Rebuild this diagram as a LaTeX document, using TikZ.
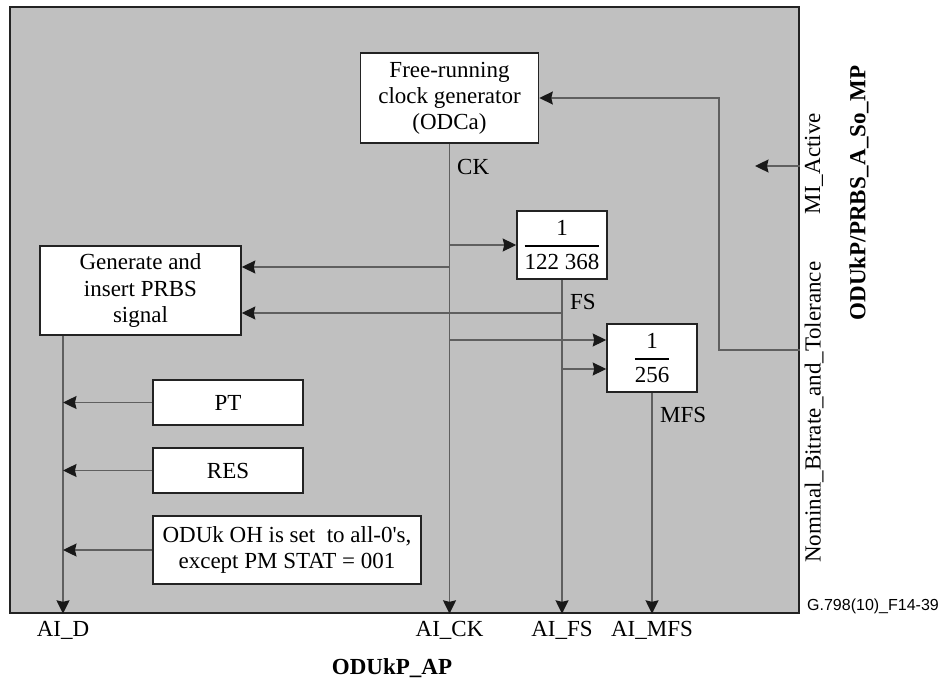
\documentclass[tikz,border=0pt]{standalone}
\usepackage{fontspec}
\usepackage{amsmath}
\setmainfont{Liberation Serif}
\newfontfamily\figsans{Liberation Sans}
\usetikzlibrary{arrows.meta,calc}
\definecolor{bgfill}{RGB}{192,192,192}
\definecolor{linec}{RGB}{95,95,95}
\definecolor{borderc}{RGB}{35,35,35}
\definecolor{tipc}{RGB}{25,25,25}
\newcommand{\divfrac}[2]{$\genfrac{}{}{1.4pt}{0}{\mbox{#1}}{\mbox{#2}}$}
\begin{document}
\begin{tikzpicture}[x=1pt,y=-1pt,
  every node/.style={font=\fontsize{23}{26}\selectfont},
  blk/.style={draw=borderc, line width=1.6pt, fill=white, align=center, inner sep=0pt},
  conn/.style={draw=linec, line width=1.3pt},
  arr/.style={conn, -{Stealth[length=13.5pt,width=13pt,inset=1.5pt,color=tipc]}},
  lbl/.style={inner sep=0pt}]
\useasboundingbox (0,0) rectangle (941,682);
% functional block
\node[draw=borderc, line width=1.6pt, fill=bgfill, minimum width=789pt, minimum height=606pt, inner sep=0pt] (fb) at (404.5,310) {};
% boxes
\node[blk, minimum width=178pt, minimum height=90pt] (clk) at (449.5,98) {Free-running\\clock generator\\(ODCa)};
\node[blk, minimum width=90pt, minimum height=68pt] (div1) at (562,245) {\divfrac{1}{122 368}};
\node[blk, minimum width=90pt, minimum height=68pt] (div2) at (652,358) {\divfrac{1}{256}};
\node[blk, minimum width=201pt, minimum height=89pt] (gen) at (140.5,290.5) {Generate and\\insert PRBS\\signal};
\node[blk, minimum width=150pt, minimum height=45pt] (pt) at (228,402.5) {PT};
\node[blk, minimum width=150pt, minimum height=45pt] (res) at (228,470.5) {RES};
\node[blk, minimum width=268pt, minimum height=68pt] (oh) at (287,550) {ODUk OH is set \ to all-0\textquotesingle s,\\except PM STAT = 001};
% coordinates
\coordinate (dl) at (63,0);
\coordinate (bus) at (719,0);
\coordinate (mi) at (755,166);
% connectors
\draw[arr] (clk.south) -- (clk.south |- fb.south);
\draw[arr] (clk.south |- div1.west) -- (div1.west);
\draw[arr] (clk.south |- 0,267) -- (gen.east |- 0,267);
\draw[arr] (div1.south |- 0,313) -- (gen.east |- 0,313);
\draw[arr] (div1.south) -- (div1.south |- fb.south);
\draw[arr] (clk.south |- 0,340) -- (div2.west |- 0,340);
\draw[arr] (div1.south |- 0,369) -- (div2.west |- 0,369);
\draw[arr] (div2.south) -- (div2.south |- fb.south);
\draw[arr] (gen.south -| dl) -- (dl |- fb.south);
\draw[arr] (pt.west) -- (pt.west -| dl);
\draw[arr] (res.west) -- (res.west -| dl);
\draw[arr] (oh.west) -- (oh.west -| dl);
\draw[arr] (fb.east |- mi) -- (mi);
\draw[arr] (fb.east |- 0,350) -- (bus |- 0,350) -- (bus |- clk.east) -- (clk.east);
% labels inside
\node[lbl, anchor=west] (ck) at (457,167) {CK};
\node[lbl, anchor=west] (fs) at (570,302) {FS};
\node[lbl, anchor=west] (mfs) at (660,415) {MFS};
% labels outside
\node[lbl] (aid) at (63,630) {AI\_D};
\node[lbl] (aick) at (449.5,630) {AI\_CK};
\node[lbl] (aifs) at (562,630) {AI\_FS};
\node[lbl] (aimfs) at (652,630) {AI\_MFS};
\node[lbl, font=\fontsize{23}{26}\selectfont\bfseries] (ap) at (392,668) {ODUkP\_AP};
\node[lbl, rotate=90, anchor=west] (nom) at (814,563) {Nominal\_Bitrate\_and\_Tolerance};
\node[lbl, rotate=90, anchor=east] (mia) at (814,113) {MI\_Active};
\node[lbl, rotate=90, font=\fontsize{23}{26}\selectfont\bfseries] (mp) at (859,193) {ODUkP/PRBS\_A\_So\_MP};
\node[lbl, font=\figsans\fontsize{16}{18}\selectfont] (ref) at (873,606) {G.798(10)\_F14-39};
\end{tikzpicture}
\end{document}
